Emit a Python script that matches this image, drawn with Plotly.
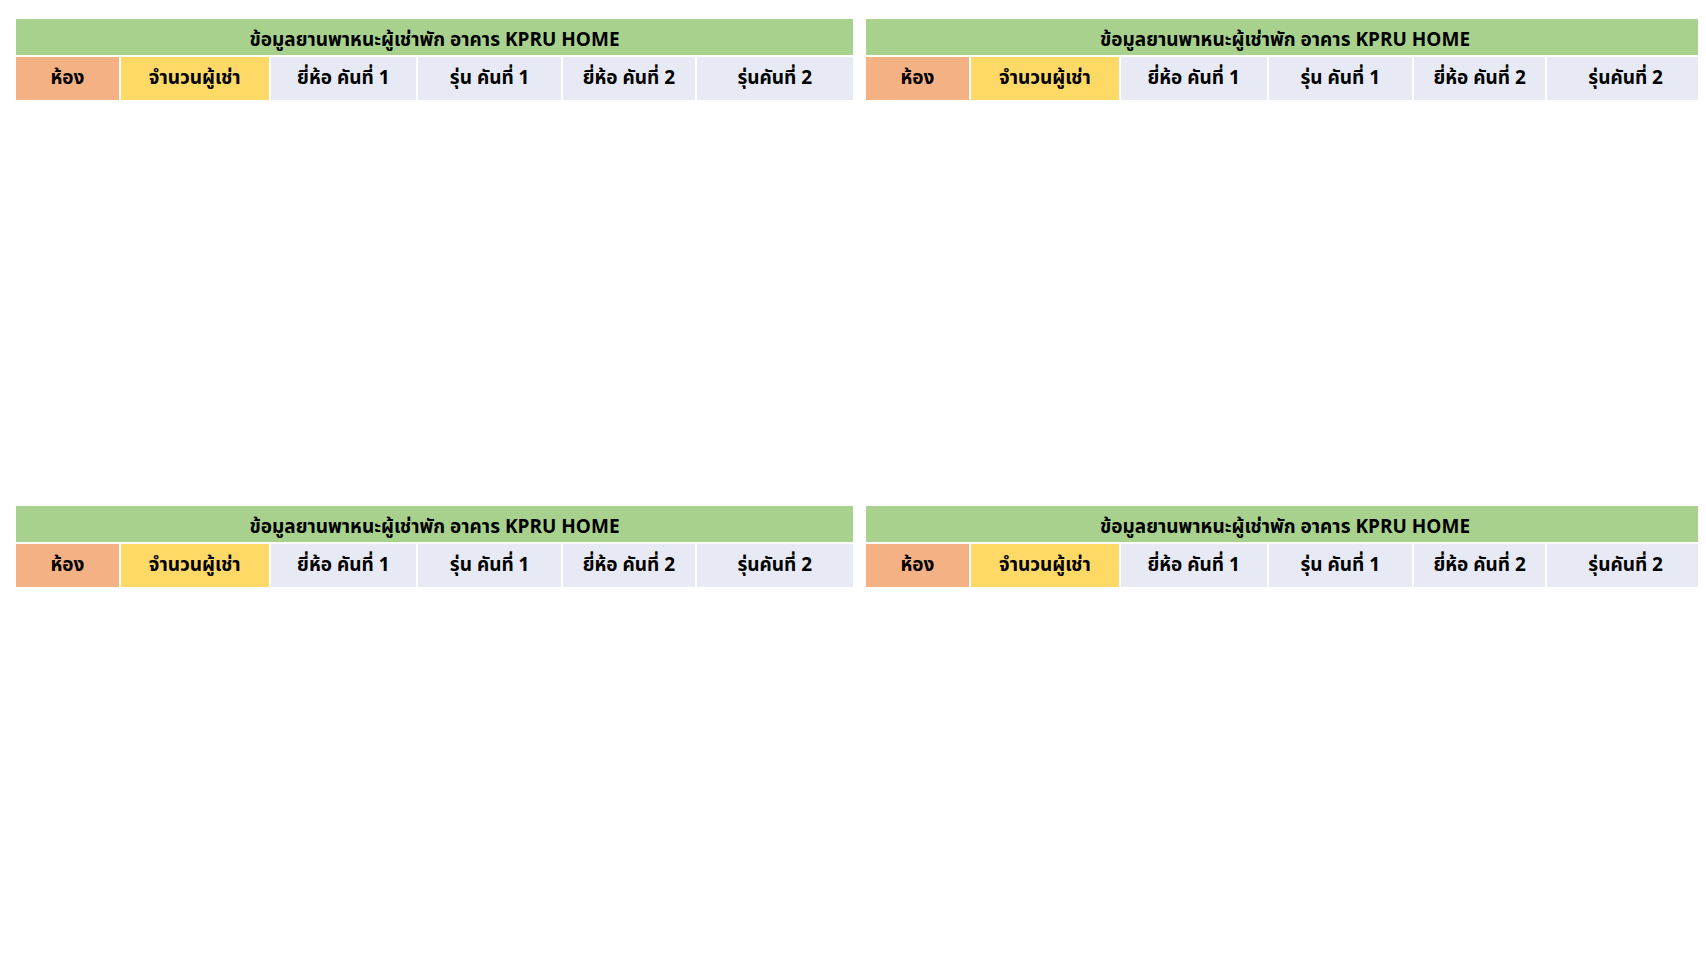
import plotly.graph_objects as go

title = "ข้อมูลยานพาหนะผู้เช่าพัก อาคาร KPRU HOME"
headers = ["ห้อง", "จำนวนผู้เช่า", "ยี่ห้อ คันที่ 1", "รุ่น คันที่ 1", "ยี่ห้อ คันที่ 2", "รุ่นคันที่ 2"]

# floor 2
rooms_2 = ["201", "202", "203", "204", "205", "206", "207", "208", "209", "210", "211"]
count_2 = ["1", "2", "1", "2", "1", "0", "1", "1", "1", "2", "2"]
brand1_2 = ["Honda", "Honda", "Yamaha", "Honda", "mitsubishi", "-", "Honda", "Honda", "Veapa", "Honda", "Honda"]
model1_2 = ["PCX 150", "PCX 150", "-", "Scoopy-i", "-", "-", "Scoopy-i", "Wave 125 i", "-", "Grand Filano", "Grand Filano"]
brand2_2 = ["-", "Honda", "-", "Honda", "", "-", "-", "-", "-", "-", "-"]
model2_2 = ["-", "WAVE 110i", "-", "Scoopy-i", "", "-", "-", "-", "-", "-", "-"]

# floor 3
rooms_3 = ["301", "302", "303", "304", "305", "306", "307", "308", "309", "310", "311"]
count_3 = ["1", "1", "1", "1", "1", "1", "1", "0", "1", "1", "1"]
brand1_3 = ["Toyota", "Honda", "Yamaha", "Honda", "Honda", "Honda", "Honda", "-", "Honda", "ไม่มีรถ", "Honda"]
model1_3 = ["-", "Scoopy-i", "Grand Filano", "Grand Filano", "Scoopy-i", "Grand Filano", "Wave110i", "-", "-", "-", "Grand Filano"]
brand2_3 = ["Byd", "-", "-", "-", "-", "-", "-", "-", "-", "-", "Toyota"]
model2_3 = ["ยังไม่ได้ป้าย", "-", "-", "-", "-", "-", "-", "-", "-", "-", "Vios"]

# floor 4
rooms_4 = ["401", "402", "403", "404", "405", "406", "407", "408", "409", "VIP 1"]
count_4 = ["0", "0", "1", "0", "1", "1", "1", "0", "1", "1"]
brand1_4 = ["-", "-", "Honda", "-", "Yamaha", "Yamaha", "Honda", "Yamaha", "Toyota", "-"]
model1_4 = ["-", "-", "Grand Filano", "-", "Fino 125", "-", "Wave110i", "-", "Fortuner", "-"]
brand2_4 = ["-", "-", "-", "-", "Vespa", "-", "-", "-", "-", "-"]
model2_4 = ["-", "-", "-", "-", "Vespa 150", "-", "-", "-", "-", "-"]

# floor 5
rooms_5 = ["501", "502", "503", "504", "505", "506", "507", "508", "509", "VIP 2"]
count_5 = ["0", "1", "0", "0", "2", "1", "2", "0", "0", "1"]
brand1_5 = ["-", "รถจักรยานไฟฟ้า", "-", "-", "ไม่มี", "ไม่มี", "ไม่มี", "-", "-", "-"]
model1_5 = ["-", "-", "-", "-", "-", "-", "-", "-", "-", "-"]
brand2_5 = ["-", "-", "-", "-", "-", "-", "-", "-", "-", "-"]
model2_5 = ["-", "-", "-", "-", "-", "-", "-", "-", "-", "-"]

FONT = "Noto Sans Thai, Tahoma, Noto Sans, sans-serif"
W, H = 1706, 960
# (columns, x range px, title top px, data bottom px)
tables = [
    ((rooms_2, count_2, brand1_2, model1_2, brand2_2, model2_2), (7, 846), 10, 490),
    ((rooms_3, count_3, brand1_3, model1_3, brand2_3, model2_3), (857, 1697), 10, 490),
    ((rooms_4, count_4, brand1_4, model1_4, brand2_4, model2_4), (7, 846), 497, 945),
    ((rooms_5, count_5, brand1_5, model1_5, brand2_5, model2_5), (857, 1697), 497, 945),
]

fig = go.Figure()
for cols, (x0, x1), top, bottom in tables:
    xd = [x0 / W, x1 / W]
    mid = top + 38
    fig.add_trace(go.Table(
        domain=dict(x=xd, y=[1 - mid / H, 1 - top / H]),
        header=dict(values=["<b>" + title + "</b>"], fill_color="#A9D18E",
                    line=dict(color="white", width=2), height=38,
                    font=dict(family=FONT, size=19, color="black"), align="center"),
    ))
    n = len(cols[0])
    fills = [["#F8CBAD"] * n, ["#FFE699"] * n] + [["#E9ECF5"] * n for _ in range(4)]
    fig.add_trace(go.Table(
        domain=dict(x=xd, y=[1 - bottom / H, 1 - mid / H]),
        columnwidth=[96, 137, 135, 133, 122, 145],
        header=dict(values=["<b>" + h + "</b>" for h in headers],
                    fill_color=["#F4B183", "#FFD966", "#E7EAF4", "#E7EAF4", "#E7EAF4", "#E7EAF4"],
                    line=dict(color="white", width=2), height=37,
                    font=dict(family=FONT, size=19, color="black"), align="center"),
        cells=dict(values=[list(c) for c in cols],
                   fill_color=fills,
                   line=dict(color="white", width=2), height=35,
                   font=dict(family=FONT, size=17, color="#333333"), align="center"),
    ))

fig.update_layout(width=W, height=H, margin=dict(l=0, r=0, t=0, b=0),
                  paper_bgcolor="white")
fig.write_html("out.html")
